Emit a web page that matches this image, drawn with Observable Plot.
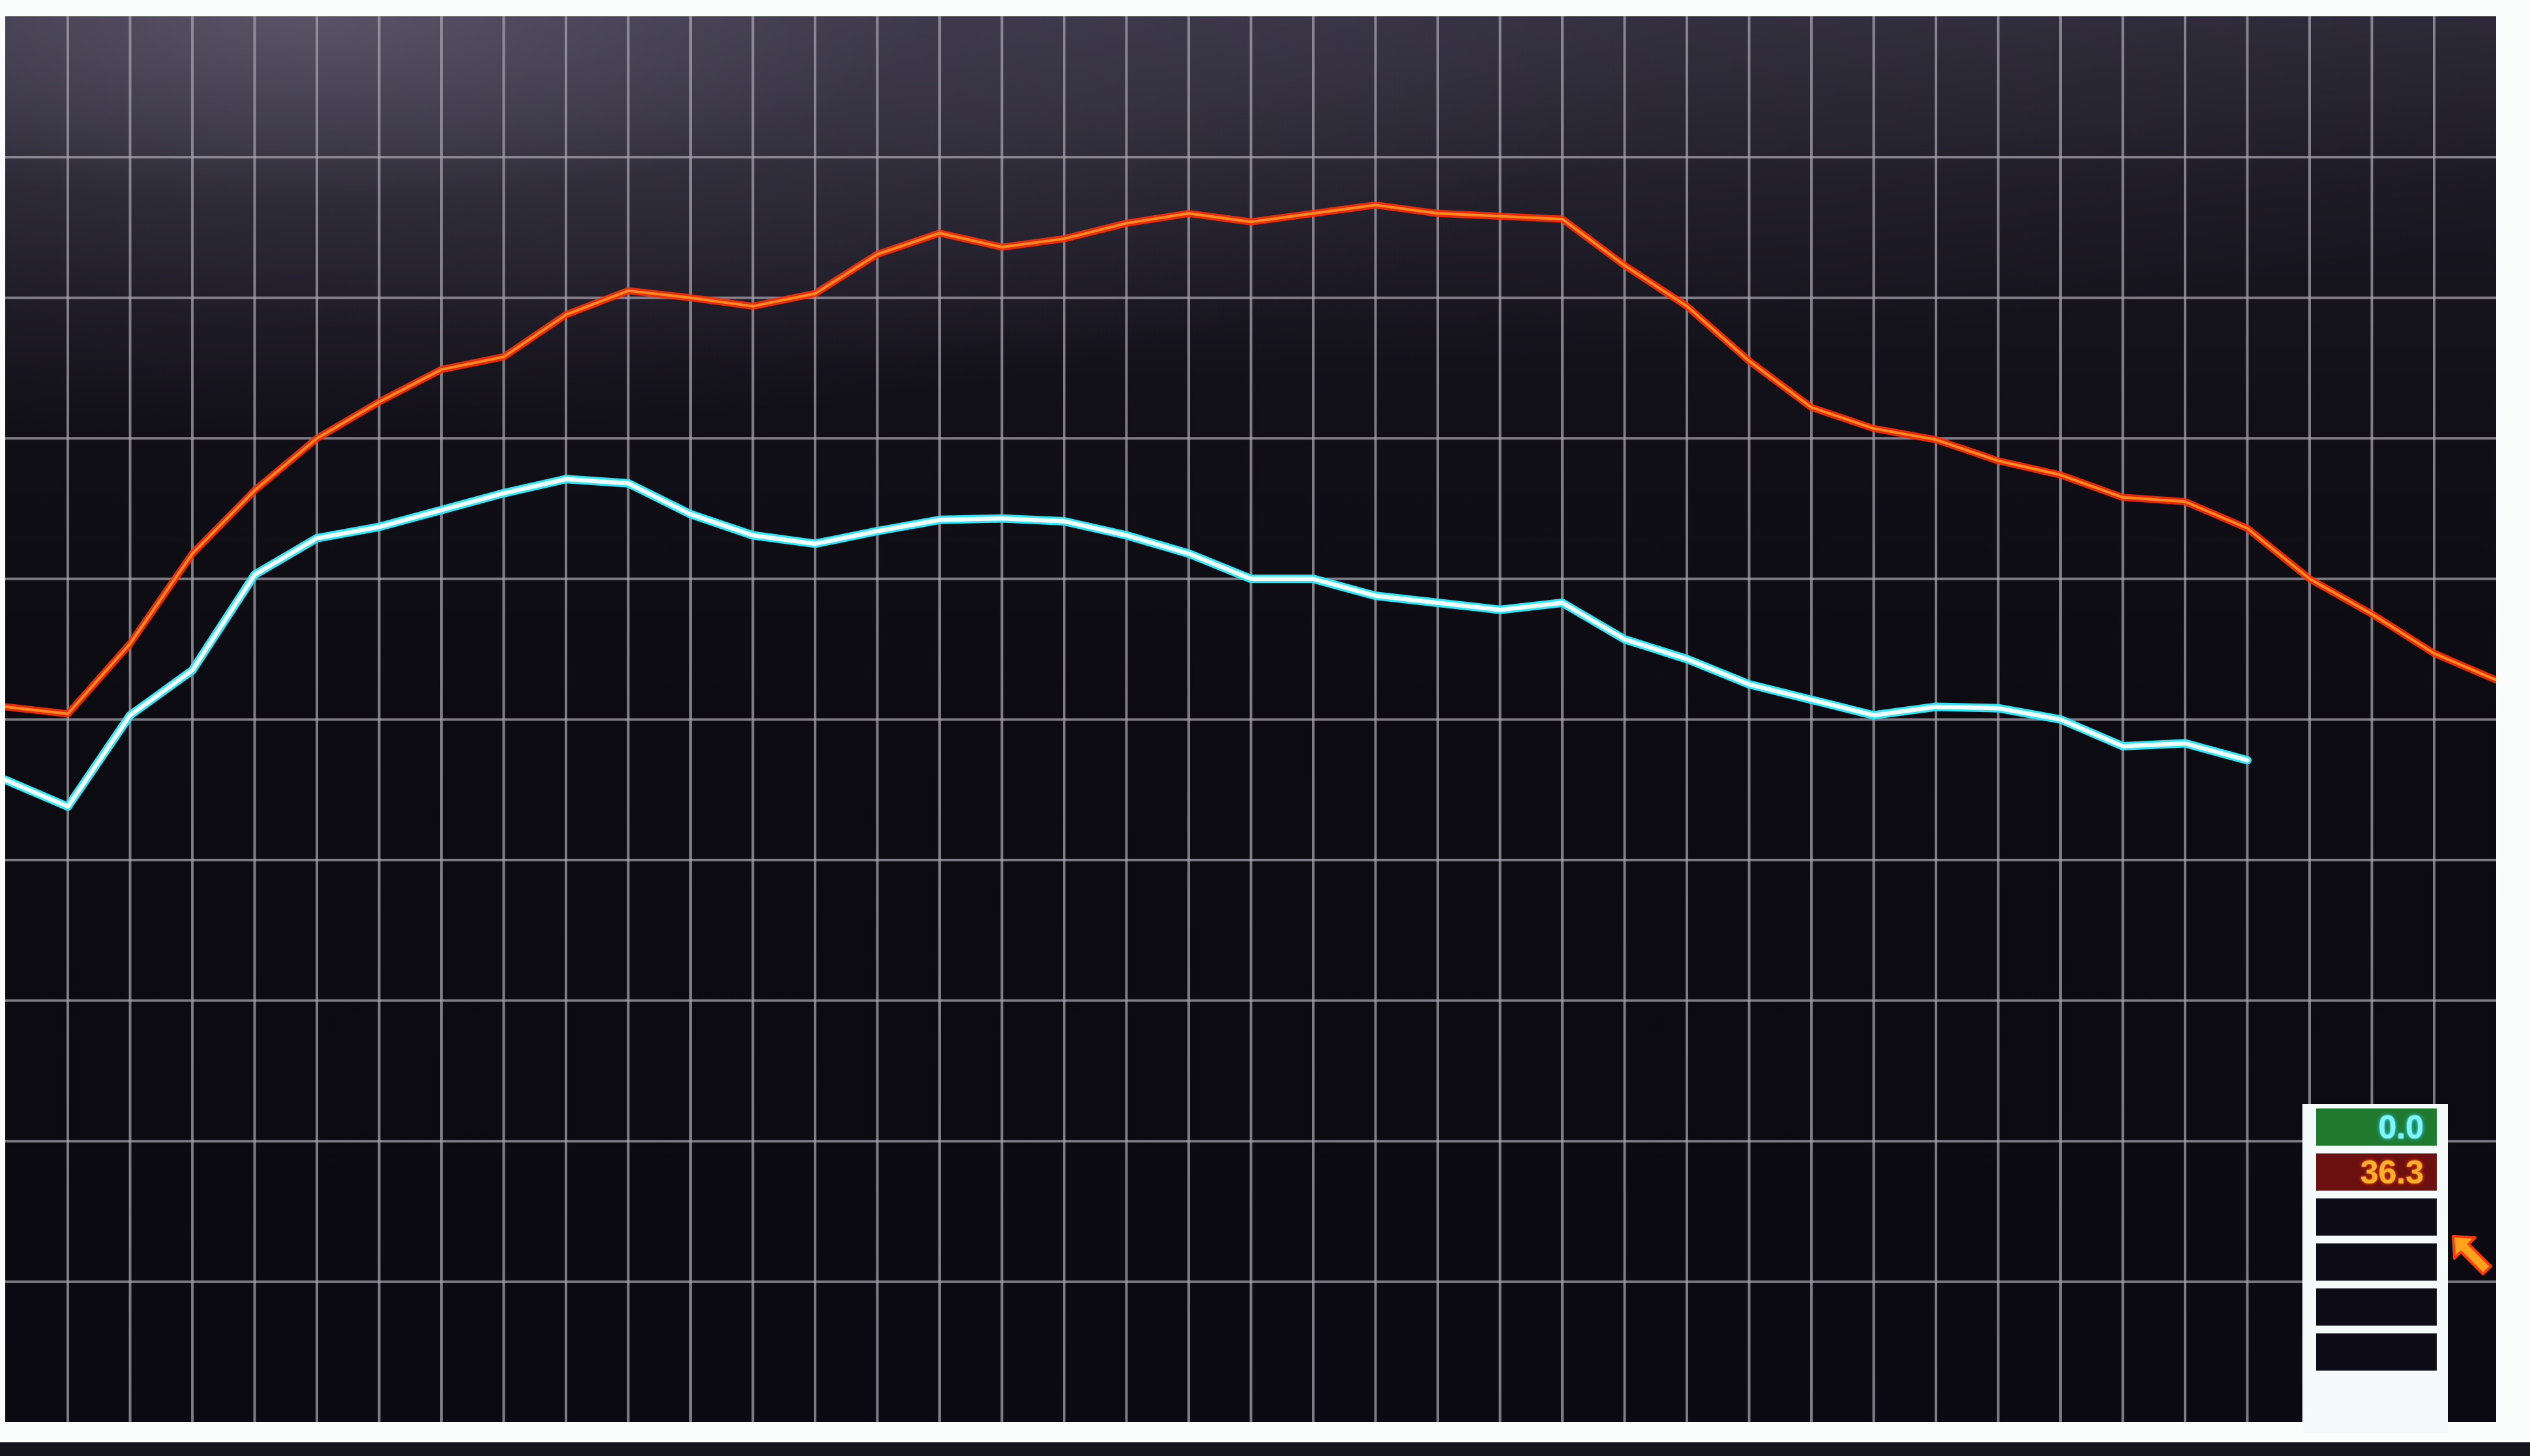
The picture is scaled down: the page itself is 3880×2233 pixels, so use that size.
<!DOCTYPE html>
<html>
<head>
<meta charset="utf-8">
<script src="https://cdn.jsdelivr.net/npm/d3@7"></script>
<script src="https://cdn.jsdelivr.net/npm/@observablehq/plot@0.6"></script>
<style>
  html, body { margin: 0; padding: 0; background: #fdfefe; }
  #page { position: relative; width: 3880px; height: 2233px; overflow: hidden; background: #fbfdfd; }
  #chart { position: absolute; left: 8px; top: 25px; width: 3820px; height: 2166px; overflow: hidden; }
  #bezel { position: absolute; left: 0; top: 2212px; width: 3880px; height: 21px; background: #16151b; }
  #readout { position: absolute; left: 3531px; top: 1693px; width: 223px; height: 505px; background: #f5fafa; }
  .cell { position: absolute; left: 21px; width: 185px; height: 57px; background: #0d0b16;
          box-sizing: border-box; text-align: right; padding-right: 20px;
          font: bold 50px "Liberation Sans", Arial, sans-serif; line-height: 58px; }
  #cursor { position: absolute; left: 3756px; top: 1890px; }
</style>
</head>
<body>
<div id="page">
  <div id="chart"></div>
  <div id="readout"></div>
  <svg id="cursor" width="72" height="72" viewBox="0 0 72 72">
    <path d="M6 6 L40 8 L30 18 L64 52 L52 64 L18 30 L8 40 Z" fill="#ffa21c" stroke="#ff3a0a" stroke-width="4" stroke-linejoin="round"/>
  </svg>
  <div id="bezel"></div>
</div>
<script>
// ---- data (one value per vertical grid line) ----
const redSeries = [5.09, 5.04, 5.54, 6.18, 6.63, 7.00, 7.26, 7.49, 7.58, 7.88,
                   8.05, 8.00, 7.94, 8.03, 8.31, 8.46, 8.36, 8.42, 8.53, 8.60,
                   8.54, 8.60, 8.66, 8.60, 8.58, 8.56, 8.23, 7.94, 7.55, 7.22,
                   7.07, 6.99, 6.84, 6.74, 6.58, 6.55, 6.36, 6.00, 5.75, 5.47, 5.28];
const cyanSeries = [4.57, 4.38, 5.03, 5.35, 6.03, 6.29, 6.37, 6.49, 6.61, 6.71,
                    6.68, 6.46, 6.31, 6.25, 6.34, 6.42, 6.43, 6.41, 6.31, 6.18,
                    6.00, 6.00, 5.88, 5.83, 5.78, 5.83, 5.57, 5.43, 5.25, 5.14,
                    5.03, 5.09, 5.08, 5.00, 4.81, 4.83, 4.71];
const gridX = [1,2,3,4,5,6,7,8,9,10,11,12,13,14,15,16,17,18,19,20,
               21,22,23,24,25,26,27,28,29,30,31,32,33,34,35,36,37,38,39];
const gridY = [1,2,3,4,5,6,7,8,9];
const readoutValues = ["0.0", "36.3", "", "", "", ""];
const readoutFills = ["#1f7a2f", "#6c1010", "#0d0b16", "#0d0b16", "#0d0b16", "#0d0b16"];
const readoutText = ["#7ff6ff", "#ffb22a", "", "", "", ""];
const readoutGlow = ["0 0 6px #22d8ff, 0 0 2px #ffffff", "0 0 6px #ff3a00, 0 0 2px #ffe060", "", "", "", ""];

const bg = [
  "radial-gradient(ellipse 55% 30% at 12% 0%, rgba(120,115,135,0.55) 0%, rgba(80,76,95,0.30) 45%, rgba(0,0,0,0) 100%)",
  "radial-gradient(ellipse 70% 25% at 45% 0%, rgba(70,66,85,0.45) 0%, rgba(0,0,0,0) 100%)",
  "linear-gradient(to bottom, #2a2735 0%, #1a1822 12%, #110f17 28%, #0c0b11 50%, #0b0a12 100%)"
].join(",");

const chart = Plot.plot({
  width: 3838,
  height: 2166,
  margin: 0,
  x: {domain: [0, 40], axis: null},
  y: {domain: [0, 10], axis: null},
  style: {background: bg, overflow: "hidden"},
  marks: [
    Plot.ruleX(gridX, {stroke: "#a4a2ac", strokeWidth: 4, strokeOpacity: 0.75}),
    Plot.ruleY(gridY, {stroke: "#a4a2ac", strokeWidth: 4, strokeOpacity: 0.75}),
    Plot.line(redSeries, {x: (d, i) => i, y: d => d, stroke: "#ff2c08", strokeWidth: 11, strokeLinejoin: "round", strokeOpacity: 0.9}),
    Plot.line(redSeries, {x: (d, i) => i, y: d => d, stroke: "#ff8c1e", strokeWidth: 4, strokeLinejoin: "round"}),
    Plot.line(cyanSeries, {x: (d, i) => i, y: d => d, stroke: "#2fe6f6", strokeWidth: 13, strokeLinejoin: "round"}),
    Plot.line(cyanSeries, {x: (d, i) => i, y: d => d, stroke: "#f2ffff", strokeWidth: 6.5, strokeLinejoin: "round"})
  ]
});
document.getElementById("chart").appendChild(chart);

const box = document.getElementById("readout");
readoutValues.forEach((v, i) => {
  const c = document.createElement("div");
  c.className = "cell";
  c.style.top = (7 + i * 69) + "px";
  c.style.background = readoutFills[i];
  c.style.color = readoutText[i] || "#ffffff";
  if (readoutGlow[i]) c.style.textShadow = readoutGlow[i];
  c.textContent = v;
  box.appendChild(c);
});
</script>
</body>
</html>
